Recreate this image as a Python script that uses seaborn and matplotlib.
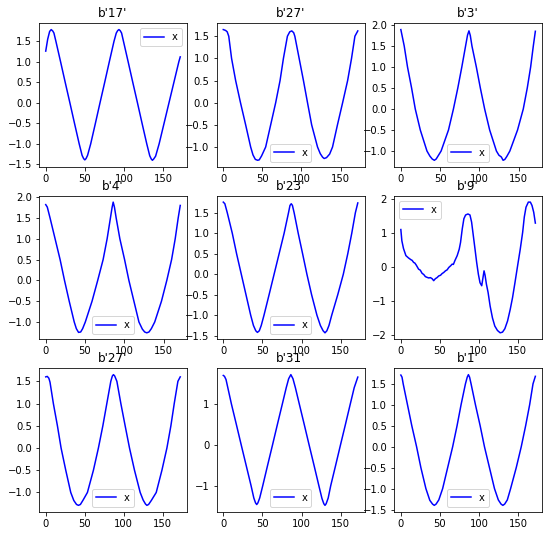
import matplotlib
matplotlib.use("Agg")
import matplotlib.pyplot as plt
from matplotlib.ticker import MultipleLocator
import seaborn as sns

# titulos de cada panel (orden fila por fila)
titulos = ["b'17'", "b'27'", "b'3'", "b'4'", "b'23'", "b'9'", "b'27'", "b'31'", "b'1'"]
leyendas = ['upper right', 'lower center', 'lower center',
            'lower center', 'lower center', 'upper left',
            'lower center', 'lower center', 'lower center']
paso_y = [0.5, 0.5, 0.5, 0.5, 0.5, 1, 0.5, 1, 0.5]

# valores (muestra, valor)
x_17 = [0, 2.5, 5, 7, 9, 10.5, 13, 19, 24.9, 30.9, 36.8, 42.8, 46.5, 48.5, 50, 51.5, 53.5,
        57.5, 63.5, 69.4, 75.4, 81.3, 87.3, 90.2, 92, 93.6, 95.2, 97, 99.4, 105.4, 111.3,
        117.3, 123.2, 129.2, 133, 135, 136.4, 138, 140.5, 145, 151.3, 157.6, 163.9, 170.2, 172]
y_17 = [1.26, 1.55, 1.74, 1.785, 1.75, 1.7, 1.5, 1.0, 0.5, 0, -0.5, -1.0, -1.28, -1.36, -1.39,
        -1.36, -1.28, -1.0, -0.5, 0, 0.5, 1.0, 1.5, 1.7, 1.76, 1.785, 1.76, 1.7, 1.5, 1.0, 0.5,
        0, -0.5, -1.0, -1.29, -1.37, -1.4, -1.37, -1.3, -1.0, -0.5, 0, 0.5, 1.0, 1.12]

x_27a = [0, 3, 5, 7, 10.6, 15.8, 22, 28.6, 35, 38, 41, 44, 46, 49, 54.2, 60.6, 67, 72.6,
         76.9, 82, 85, 87.6, 90, 91.5, 97, 102.5, 107.7, 113, 120.5, 124, 127, 129, 132, 136,
         139.7, 146, 152.6, 159, 164, 168.3, 172]
y_27a = [1.65, 1.63, 1.6, 1.5, 1.0, 0.5, 0, -0.5, -1.0, -1.18, -1.28, -1.3, -1.29, -1.2, -1.0,
         -0.5, 0, 0.5, 1.0, 1.5, 1.6, 1.62, 1.58, 1.5, 1.0, 0.5, 0, -0.5, -1.0, -1.15, -1.23,
         -1.26, -1.24, -1.16, -1.0, -0.5, 0, 0.5, 1.0, 1.5, 1.62]

x_3 = [0, 4.3, 8.5, 13.7, 18.4, 24.8, 33.3, 37, 40, 42.7, 45, 48, 51.3, 60.7, 67, 72.6, 77.7,
       82.5, 85, 86.8, 88.5, 90.6, 96.2, 101.3, 106.8, 113.2, 121.8, 125, 128, 130.3, 132.5,
       135, 138.9, 148.7, 156, 161.1, 165.4, 168.8, 171.4]
y_3 = [1.89, 1.5, 1.0, 0.5, 0, -0.5, -1.0, -1.12, -1.19, -1.22, -1.19, -1.1, -1.0, -0.5, 0,
       0.5, 1.0, 1.5, 1.76, 1.86, 1.75, 1.5, 1.0, 0.5, 0, -0.5, -1.0, -1.1, -1.14, -1.22, -1.2,
       -1.13, -1.0, -0.5, 0, 0.5, 1.0, 1.5, 1.85]

x_4 = [0, 2, 5.5, 11.9, 18.3, 23.9, 29.9, 36.3, 39, 41.8, 44.5, 47, 50.4, 59, 66.2, 73.1,
       78.2, 82.4, 84.5, 85.9, 87.5, 89.7, 94.4, 100.4, 105.9, 112.3, 118.7, 123, 126, 128.7,
       131.5, 134.5, 138.8, 147.4, 154.2, 160.3, 164.9, 168.7, 171.3]
y_4 = [1.82, 1.76, 1.5, 1.0, 0.5, 0, -0.5, -1.0, -1.16, -1.25, -1.24, -1.16, -1.0, -0.5, 0,
       0.5, 1.0, 1.5, 1.75, 1.88, 1.76, 1.5, 1.0, 0.5, 0, -0.5, -1.0, -1.17, -1.24, -1.26,
       -1.24, -1.16, -1.0, -0.5, 0, 0.5, 1.0, 1.5, 1.8]

x_23 = [0, 2, 5.1, 11.5, 17, 23, 29, 35, 38.5, 41.5, 43.6, 46, 48.5, 52, 58.5, 64.9, 71.3,
        77.7, 83.3, 85.2, 86.8, 88.3, 90.5, 95.7, 101.3, 106.8, 112.8, 119.6, 124, 127.5,
        129.9, 132.3, 135, 138.5, 146.2, 153.3, 159, 164.1, 168.7, 171.8]
y_23 = [1.76, 1.72, 1.5, 1.0, 0.5, 0, -0.5, -1.0, -1.25, -1.38, -1.42, -1.38, -1.25, -1.0,
        -0.5, 0, 0.5, 1.0, 1.5, 1.68, 1.72, 1.68, 1.5, 1.0, 0.5, 0, -0.5, -1.0, -1.25, -1.38,
        -1.43, -1.38, -1.25, -1.0, -0.5, 0, 0.5, 1.0, 1.5, 1.74]

x_9 = [0, 1.3, 3.4, 6.5, 9.9, 12.9, 14.5, 16.4, 18, 19.8, 22.8, 25, 27.2, 29.5, 31.5, 33.5,
       35.8, 38, 40.1, 42.2, 44.4, 46.5, 48.7, 51, 53, 55, 57.3, 59.5, 61.6, 64, 66, 67.5,
       69.4, 72.4, 75, 76.7, 78.9, 81, 83.2, 86.2, 88.8, 90.9, 93.1, 95.3, 97.4, 99.6, 101.7,
       103.9, 105.2, 106.9, 108.2, 109.9, 112.1, 114.7, 117.7, 120.7, 124.1, 127.6, 130.6,
       133.6, 137.1, 140.5, 143.5, 146.6, 150, 153.4, 156.5, 158.6, 160.8, 163.8, 166.4,
       168.5, 170.7, 172.8]
y_9 = [1.11, 0.78, 0.55, 0.34, 0.27, 0.22, 0.2, 0.14, 0.12, 0.06, -0.06, -0.09, -0.18, -0.22,
       -0.28, -0.3, -0.32, -0.31, -0.34, -0.4, -0.34, -0.31, -0.26, -0.24, -0.19, -0.16, -0.11,
       -0.08, -0.01, 0.04, 0.09, 0.08, 0.19, 0.34, 0.53, 0.73, 1.13, 1.43, 1.54, 1.57, 1.54,
       1.33, 0.93, 0.53, 0.14, -0.21, -0.46, -0.55, -0.36, -0.11, -0.24, -0.5, -0.75, -1.15,
       -1.5, -1.74, -1.87, -1.94, -1.92, -1.82, -1.59, -1.25, -0.9, -0.46, 0.04, 0.53, 1.03,
       1.48, 1.77, 1.92, 1.92, 1.82, 1.62, 1.3]

x_27b = [0, 2, 4, 5.5, 9.8, 15, 19.7, 25.7, 32.1, 36, 39.5, 42, 44.5, 48, 53.5, 61.2, 67.6,
         73.3, 78.4, 83.5, 85.5, 86.9, 88.5, 91.3, 96.4, 101.9, 107.5, 113.9, 121.2, 125, 128,
         129.8, 132, 135.5, 141.8, 149.1, 155.5, 160.6, 164.9, 169.6, 172.6]
y_27b = [1.6, 1.61, 1.57, 1.48, 1.0, 0.5, 0, -0.5, -1.0, -1.18, -1.27, -1.29, -1.27, -1.17,
         -1.0, -0.5, 0, 0.5, 1.0, 1.5, 1.62, 1.65, 1.62, 1.5, 1.0, 0.5, 0, -0.5, -1.0, -1.17,
         -1.26, -1.29, -1.27, -1.18, -1.0, -0.5, 0, 0.5, 1.0, 1.5, 1.6]

x_31 = [0, 1.5, 3.5, 10.4, 16.7, 22.9, 29.2, 35.5, 39, 41.2, 42.7, 44.2, 46.5, 50.4, 56.6,
        62.9, 69.1, 75.4, 80.4, 83.5, 86.3, 89, 92.1, 97.1, 103.4, 109.6, 115.9, 122.1, 126,
        128.4, 129.9, 131.4, 134, 137.2, 143.5, 149.7, 156, 162.2, 167.2, 171.8]
y_31 = [1.7, 1.68, 1.6, 1.0, 0.5, 0, -0.5, -1.0, -1.3, -1.42, -1.46, -1.42, -1.3, -1.0, -0.5,
        0, 0.5, 1.0, 1.4, 1.62, 1.72, 1.62, 1.4, 1.0, 0.5, 0, -0.5, -1.0, -1.31, -1.44, -1.48,
        -1.44, -1.3, -1.0, -0.5, 0, 0.5, 1.0, 1.4, 1.66]

x_1 = [0, 1.5, 3, 8.5, 14, 20.1, 25.6, 32, 37, 40.5, 42.7, 45, 48.5, 53.4, 59.8, 66.2, 71.8,
       76.9, 82.5, 84.8, 86.3, 87.8, 89.7, 95.3, 101.3, 106.8, 113.2, 119.6, 124.5, 128, 130.3,
       132.6, 136, 140.2, 147.4, 153.8, 159.4, 164.5, 168.8, 171.8]
y_1 = [1.71, 1.66, 1.5, 1.0, 0.5, 0, -0.5, -1.0, -1.28, -1.37, -1.4, -1.37, -1.27, -1.0, -0.5,
       0, 0.5, 1.0, 1.5, 1.66, 1.72, 1.66, 1.5, 1.0, 0.5, 0, -0.5, -1.0, -1.27, -1.37, -1.4,
       -1.37, -1.27, -1.0, -0.5, 0, 0.5, 1.0, 1.5, 1.68]

series = [(x_17, y_17), (x_27a, y_27a), (x_3, y_3),
          (x_4, y_4), (x_23, y_23), (x_9, y_9),
          (x_27b, y_27b), (x_31, y_31), (x_1, y_1)]

fig = plt.figure(figsize=(547 / 72, 536 / 72), dpi=72)
axes = fig.subplots(3, 3)
fig.subplots_adjust(left=0.0713, right=0.991, bottom=0.045, top=0.957,
                    wspace=0.2, hspace=0.2)

for ax, (xs, ys), titulo, loc, paso in zip(axes.flat, series, titulos, leyendas, paso_y):
    sns.lineplot(x=xs, y=ys, ax=ax, color='blue', label='x', sort=False)
    ax.set_title(titulo)
    ax.yaxis.set_major_locator(MultipleLocator(paso))
    ax.legend(loc=loc)

fig.savefig('out.png', dpi=72)
